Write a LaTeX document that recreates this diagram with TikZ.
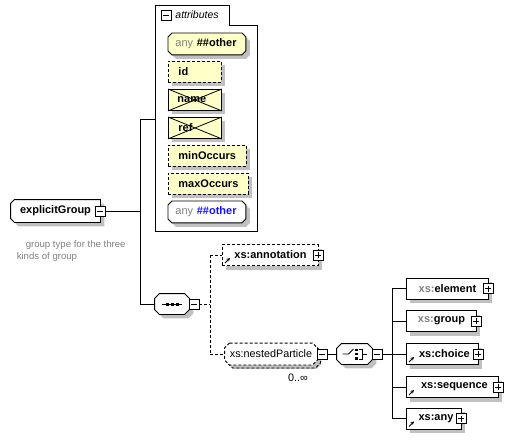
\documentclass[tikz,border=0pt]{standalone}
\usepackage{fontspec}
\setmainfont{Liberation Sans}
\usetikzlibrary{shadows,arrows.meta,backgrounds}
\definecolor{attrfill}{HTML}{FFFFC8}
\definecolor{shd}{HTML}{C0C0C0}
\definecolor{xsgray}{HTML}{808080}
\definecolor{anyblue}{HTML}{1414FF}
\newcommand\octpath[2]{([xshift=#2]#1.north west) -- ([xshift=-#2]#1.north east) -- ([yshift=-#2]#1.north east) -- ([yshift=#2]#1.south east) -- ([xshift=-#2]#1.south east) -- ([xshift=#2]#1.south west) -- ([yshift=#2]#1.south west) -- ([yshift=-#2]#1.north west) -- cycle}
\newcommand\leftchampath[2]{([xshift=#2]#1.north west) -- (#1.north east) -- (#1.south east) -- ([xshift=#2]#1.south west) -- ([yshift=#2]#1.south west) -- ([yshift=-#2]#1.north west) -- cycle}
\begin{document}
\begin{tikzpicture}[x=1pt,y=-1pt,line width=0.9pt,
  lbl/.style={font=\fontsize{11}{13}\selectfont\bfseries},
  reg/.style={font=\fontsize{10.8}{13}\selectfont},
  dsh/.style={dash pattern=on 3pt off 2pt},
  shadowed/.style={general shadow={shadow xshift=4pt,shadow yshift=-4pt,fill=shd}},
  shcanvas/.style={fill=shd,draw=none,transform canvas={shift={(4pt,-4pt)}}},
  elbox/.style={rectangle,draw,fill=white,minimum height=21pt,inner sep=0,anchor=west,shadowed,lbl},
  attr/.style={rectangle,draw,fill=attrfill,minimum height=21pt,inner sep=0,anchor=north west,shadowed,lbl,align=left},
  attropt/.style={attr,dsh},
  plain/.style={rectangle,inner sep=0,anchor=north west,lbl,align=left},
  pmbox/.style={rectangle,draw,fill=white,minimum size=10pt,inner sep=0,line width=0.8pt},
  pmminus/.style={pmbox,path picture={\draw[line width=0.8pt] (path picture bounding box.center) ++(-3pt,0) -- ++(6pt,0);}},
  pmplus/.style={pmbox,path picture={\draw[line width=0.8pt] (path picture bounding box.center) ++(-3pt,0) -- ++(6pt,0) (path picture bounding box.center) ++(0,-3pt) -- ++(0,6pt);}},
  refarrow/.style={-{Stealth[length=3.5pt,width=3.5pt]},line width=0.9pt},
  conn/.style={line width=0.9pt},
]
\useasboundingbox (0,0) rectangle (512,440);

% explicitGroup
\node[rectangle,inner sep=0,minimum width=89pt,minimum height=22pt,lbl] (eg) at (55.5,211) {explicitGroup\hspace{8pt}};
\node[pmminus] (egm) at (100,211) {};
\node[anchor=north west,align=left,text=xsgray,font=\fontsize{9.6}{11.5}\selectfont] (desc) at (13,237) {\hspace{9pt}group type for the three\\kinds of group};

% attributes container
\path[draw] (155,5) -- (229,5) -- (229,25) -- (257,25) -- (257,231) -- (155,231) -- cycle;
\coordinate (attrIn) at (155,119);
\node[pmminus] (tabm) at (166,15) {};
\node[anchor=west,inner sep=0,font=\fontsize{10.5}{12}\selectfont\itshape] (tabt) at (175,15) {attributes};

\node[plain,text width=77pt,minimum height=21pt] (a1) at (168,33) {\hspace*{7pt}\textcolor{xsgray}{\mdseries any} \#\#other};
\node[attropt,text width=53pt] (a2) at (168,61) {\hspace*{10pt}id};
\node[attr,text width=53pt] (a3) at (168,89) {\hspace*{9pt}name};
\draw[line width=0.8pt] (a3.north west) -- (a3.south east) (a3.south west) -- (a3.north east);
\node[attr,text width=53pt] (a4) at (168,117) {\hspace*{10pt}ref};
\draw[line width=0.8pt] (a4.north west) -- (a4.south east) (a4.south west) -- (a4.north east);
\node[attropt,text width=78pt] (a5) at (168,145) {\hspace*{10pt}minOccurs};
\node[attropt,text width=80pt] (a6) at (168,173) {\hspace*{10pt}maxOccurs};
\node[plain,text width=77pt,minimum height=21pt] (a7) at (168,201) {\hspace*{7pt}\textcolor{xsgray}{\mdseries any} \textcolor{anyblue}{\#\#other}};

% main trunk
\coordinate (jt) at (140,119);
\coordinate (jm) at (140,211);
\coordinate (jb) at (140,304);
\draw[conn] (egm.east) -- (jm);
\draw[conn] (attrIn) -- (jt) -- (jb);

% sequence
\node[rectangle,inner sep=0,minimum width=34pt,minimum height=20pt] (seq) at (172,304) {};
\draw[line width=0.9pt] (seq.center) ++(-10,0) -- ++(20,0);
\fill (seq.center) ++(-6.5,-1.5) rectangle ++(3,3);
\fill (seq.center) ++(-1.5,-1.5) rectangle ++(3,3);
\fill (seq.center) ++(3.5,-1.5) rectangle ++(3,3);
\node[pmminus] (seqm) at (194,304) {};
\draw[conn] (jb) -- (seq.west);

\coordinate (jd) at (210,304);
\coordinate (jdt) at (210,255);
\coordinate (jdb) at (210,354);
\draw[conn,dsh] (seqm.east) -- (jd);
\draw[conn,dsh] (jdt) -- (jdb);

% annotation
\node[elbox,dsh,minimum width=96pt] (annot) at (222,255) {xs:annotation\hspace{6pt}};
\draw[refarrow] ([shift={(3,-3)}]annot.south west) -- ++(5,-5);
\node[pmplus] (annotp) at (318,255) {};
\draw[conn,dsh] (jdt) -- (annot.west);

% nestedParticle
\node[rectangle,inner sep=0,minimum width=92pt,minimum height=21pt] (npback) at (274,357) {};
\node[rectangle,inner sep=0,minimum width=92pt,minimum height=21pt,reg] (np) at (271,354) {xs:nestedParticle};
\node[reg,inner sep=0] (occ) at (298,378) {0..∞};
\node[pmminus] (npm) at (322,354) {};
\draw[conn,dsh] (jdb) -- (np.west);

% choice
\node[rectangle,inner sep=0,minimum width=35pt,minimum height=20pt] (ch) at (354.5,354) {};
\draw[line width=0.9pt] (ch.center) ++(-12,0) -- ++(6,0) -- ++(5,-5);
\fill (ch.center) ++(0.5,-5.5) rectangle ++(2.5,2.5);
\fill (ch.center) ++(0.5,-1.25) rectangle ++(2.5,2.5);
\fill (ch.center) ++(0.5,3) rectangle ++(2.5,2.5);
\draw[line width=0.9pt] (ch.center) ++(4.5,-5) -- ++(3,0) -- ++(0,10) -- ++(-3,0);
\draw[line width=0.9pt] (ch.center) ++(7.5,0) -- ++(4.5,0);
\node[pmminus] (chm) at (377,354) {};
\draw[conn] (npm.east) -- (ch.west);

\coordinate (jr) at (392,354);
\coordinate (jrt) at (392,288.5);
\coordinate (jrb) at (392,418.5);
\draw[conn] (chm.east) -- (jr);
\draw[conn] (jrt) -- (jrb);

% children
\node[elbox,minimum width=82pt] (c1) at (406,288.5) {\textcolor{xsgray}{xs:}element\hspace{4pt}};
\node[pmplus] (c1p) at (488,288.5) {};
\node[elbox,minimum width=70pt] (c2) at (406,321) {\textcolor{xsgray}{xs:}group\hspace{4pt}};
\node[pmplus] (c2p) at (476,321) {};
\node[elbox,minimum width=72pt] (c3) at (406,354) {\hspace{4pt}xs:choice\hspace{2pt}};
\draw[refarrow] ([shift={(3,-3)}]c3.south west) -- ++(5,-5);
\node[pmplus] (c3p) at (478,354) {};
\node[elbox,minimum width=92pt] (c4) at (406,387) {\hspace{4pt}xs:sequence\hspace{2pt}};
\draw[refarrow] ([shift={(3,-3)}]c4.south west) -- ++(5,-5);
\node[pmplus] (c4p) at (498,387) {};
\node[elbox,minimum width=55pt] (c5) at (406,418.5) {\hspace{4pt}xs:any\hspace{2pt}};
\draw[refarrow] ([shift={(3,-3)}]c5.south west) -- ++(5,-5);
\node[pmplus] (c5p) at (461,418.5) {};

\draw[conn] (jrt) -- (c1.west);
\draw[conn] (c2.west -| jr) -- (c2.west);
\draw[conn] (jr) -- (c3.west);
\draw[conn] (c4.west -| jr) -- (c4.west);
\draw[conn] (jrb) -- (c5.west);

% shapes drawn behind the texts
\begin{scope}[on background layer,line width=0.9pt]
  \path[shcanvas] \leftchampath{eg}{4pt};
  \draw[line width=0.9pt,fill=white] \leftchampath{eg}{4pt};
  \path[shcanvas] \octpath{a1}{4pt};
  \draw[line width=0.9pt,fill=attrfill] \octpath{a1}{4pt};
  \path[shcanvas] \octpath{a7}{4pt};
  \draw[line width=0.9pt,fill=white] \octpath{a7}{4pt};
  \path[shcanvas] \octpath{seq}{5pt};
  \draw[line width=0.9pt,fill=white] \octpath{seq}{5pt};
  \path[shcanvas] \octpath{ch}{5pt};
  \draw[line width=0.9pt,fill=white] \octpath{ch}{5pt};
  \path[shcanvas] \octpath{np}{5pt};
  \draw[line width=0.9pt,dsh] \octpath{npback}{5pt};
  \draw[line width=0.9pt,dsh,fill=white] \octpath{np}{5pt};
\end{scope}
\end{tikzpicture}
\end{document}
